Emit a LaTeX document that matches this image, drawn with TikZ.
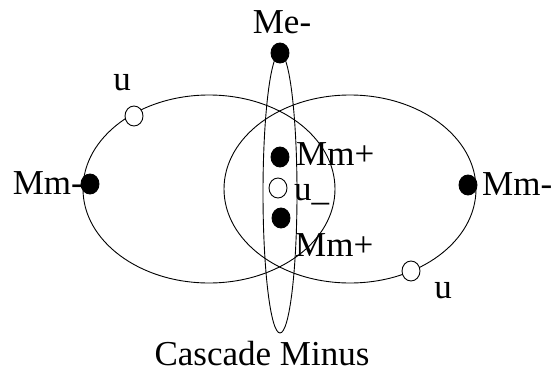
\documentclass[tikz,border=0pt]{standalone}
\usepackage{fontspec}
\setmainfont{Liberation Serif}
\usetikzlibrary{shapes.geometric}

\begin{document}
\begin{tikzpicture}[
    x=1pt, y=-1pt,
    orbit/.style={line width=0.9pt},
    quark/.style={ellipse, minimum width=18pt, minimum height=20pt, inner sep=0pt, draw, line width=0.9pt},
    qfull/.style={quark, fill=black},
    qopen/.style={quark, fill=white},
    lbl/.style={font=\fontsize{35}{38}\selectfont, inner sep=0pt}
]
\useasboundingbox (0,0) rectangle (556,375);

% Orbits
\coordinate (leftc) at (209,189);
\coordinate (rightc) at (350,189);
\coordinate (midc) at (280,193);
\draw[orbit] (leftc) ellipse [x radius=126, y radius=94];
\draw[orbit] (rightc) ellipse [x radius=126, y radius=94];
\draw[orbit] (midc) ellipse [x radius=17, y radius=140];

% Quarks
\node[qfull] (me) at (280,53) {};
\node[qfull] (mmleft) at (90,184) {};
\node[qfull] (mmright) at (468,185) {};
\node[qfull] (mmup) at (280,157) {};
\node[qopen] (umid) at (278,188) {};
\node[qfull] (mmdown) at (281,218) {};
\node[qopen] (uleft) at (134,116) {};
\node[qopen] (uright) at (411,271) {};

% Labels
\node[lbl, anchor=base] (melbl) at (282,33) {Me-};
\node[lbl, anchor=base] (uleftlbl) at (122,90) {u};
\node[lbl, anchor=base east] (mmleftlbl) at (83,194) {Mm-};
\node[lbl, anchor=base west] (mmrightlbl) at (482,195) {Mm-};
\node[lbl, anchor=base west] (mmuplbl) at (296,165) {Mm+};
\node[lbl, anchor=base west] (umidlbl) at (294,200) {u\_};
\node[lbl, anchor=base west] (mmdownlbl) at (295,256) {Mm+};
\node[lbl, anchor=base] (urightlbl) at (443,298) {u};
\node[lbl, anchor=base] (title) at (262,365) {Cascade Minus};
\end{tikzpicture}
\end{document}
